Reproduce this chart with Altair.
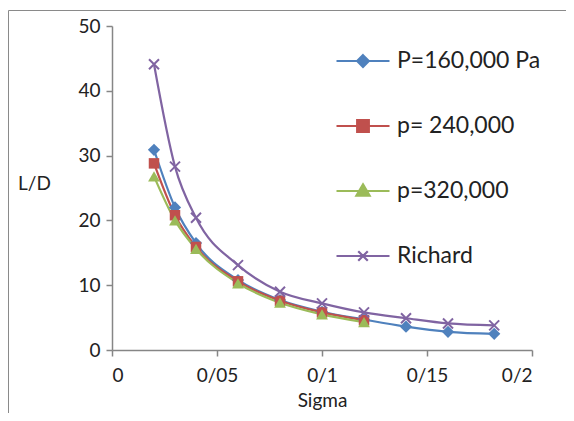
import altair as alt
import pandas as pd

sigma = [0.02, 0.03, 0.04, 0.06, 0.08, 0.10, 0.12, 0.14, 0.16, 0.182]
p160 = [30.9, 22.0, 16.5, 10.8, 7.7, 5.9, 4.7, 3.6, 2.8, 2.5]
p240 = [28.8, 20.8, 15.9, 10.6, 7.6, 5.8, 4.6]
p320 = [26.8, 20.0, 15.6, 10.3, 7.3, 5.5, 4.3]
richard = [44.1, 28.3, 20.4, 13.1, 9.0, 7.2, 5.8, 4.9, 4.1, 3.8]

names = ["P=160,000 Pa", "p= 240,000", "p=320,000", "Richard"]
colors = ["#4F81BD", "#C0504D", "#9BBB59", "#8064A2"]
series_vals = [p160, p240, p320, richard]

rows = []
for i, (n, vals) in enumerate(zip(names, series_vals)):
    for x, y in zip(sigma, vals):
        rows.append({"series": n, "sigma": x, "ld": y, "order": i})
df = pd.DataFrame(rows)

FONT = "Lato"
xs = alt.X("sigma:Q", scale=alt.Scale(domain=[0, 0.2], nice=False),
           axis=alt.Axis(values=[0, 0.05, 0.1, 0.15, 0.2],
                         labelExpr="replace(format(datum.value, '.2~f'), '.', '/')",
                         title="Sigma", grid=False, tickSize=6, labelPadding=10,
                         titlePadding=6))
ys = alt.Y("ld:Q", scale=alt.Scale(domain=[0, 50], nice=False),
           axis=alt.Axis(values=[0, 10, 20, 30, 40, 50], title="L/D", grid=False,
                         tickSize=6, labelPadding=6, titleAngle=0, titleX=-78,
                         titleY=157, titleAlign="center", titleBaseline="middle"))
cscale = alt.Scale(domain=names, range=colors)

base = alt.Chart(df)

lines = base.mark_line(interpolate="monotone", strokeWidth=2.2).encode(
    x=xs, y=ys, color=alt.Color("series:N", scale=cscale, legend=None),
    detail="series:N")

shapes = ["diamond", "square", "triangle-up",
          "M-1,-1L1,1M-1,1L1,-1"]
sizes = [150, 110, 140, 100]
point_layers = []
for n, s, sz in zip(names, shapes, sizes):
    if n == "Richard":
        m = base.mark_point(shape=s, size=sz, filled=False, strokeWidth=2, opacity=1)
    else:
        m = base.mark_point(shape=s, size=sz, filled=True, opacity=1)
    point_layers.append(
        m.transform_filter(alt.datum.series == n).encode(
            x=xs, y=ys, color=alt.Color("series:N", scale=cscale, legend=None)))

leg_paths = [
    "M-1,0H1M0,-0.22L0.22,0L0,0.22L-0.22,0Z",
    "M-1,0H1M-0.22,-0.22H0.22V0.22H-0.22Z",
    "M-1,0H1M0,-0.25L0.25,0.18L-0.25,0.18Z",
    "M-1,0H1M-0.18,-0.18L0.18,0.18M-0.18,0.18L0.18,-0.18",
]
leg = alt.Legend(title=None, orient="none", legendX=223, legendY=7,
                 symbolSize=2809, symbolStrokeWidth=2.2, symbolOpacity=1,
                 labelFont=FONT, labelFontSize=23, labelColor="#222222",
                 rowPadding=25, labelOffset=6, labelLimit=300)
legend_layer = base.mark_point(opacity=0, filled=True).encode(
    x=xs, y=ys,
    fill=alt.Fill("series:N", scale=alt.Scale(domain=names, range=colors), legend=leg),
    stroke=alt.Stroke("series:N", scale=alt.Scale(domain=names, range=colors), legend=leg),
    shape=alt.Shape("series:N", scale=alt.Scale(domain=names, range=leg_paths), legend=leg),
)

frame_top = alt.Chart(pd.DataFrame({"a": [0]})).mark_rule(color="#8a8a8a", strokeWidth=1).encode(
    x=alt.value(-103.5), x2=alt.value(470), y=alt.value(-15.5))
frame_left = alt.Chart(pd.DataFrame({"a": [0]})).mark_rule(color="#8a8a8a", strokeWidth=1).encode(
    x=alt.value(-103.5), y=alt.value(-15.5), y2=alt.value(400))

chart = alt.layer(frame_top, frame_left, legend_layer, lines, *point_layers).properties(
    width=420, height=324,
    autosize=alt.AutoSizeParams(type="none"),
    padding={"left": 104, "top": 18, "right": 34, "bottom": 63},
).configure_view(stroke=None).configure_axis(
    domainColor="#868686", tickColor="#868686", domainWidth=1.5, tickWidth=1.5,
    labelFont=FONT, labelFontSize=19, labelColor="#222222",
    titleFont=FONT, titleFontSize=19, titleColor="#222222", titleFontWeight="normal",
)

chart.save("out.html", embed_options={"renderer": "svg", "actions": False})
